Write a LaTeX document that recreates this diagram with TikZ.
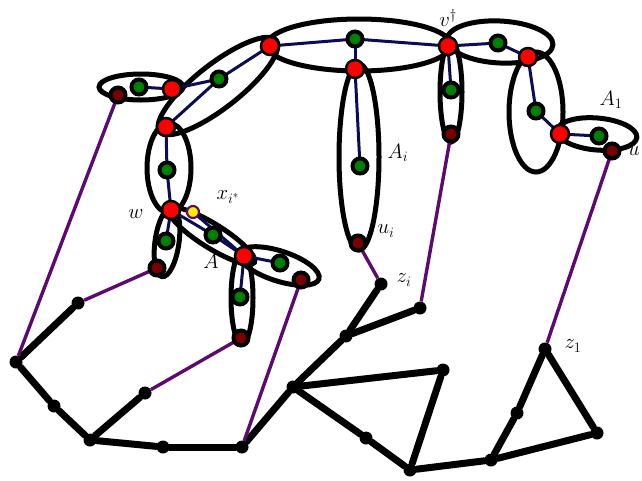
\documentclass[tikz,border=0pt]{standalone}
\usepackage{amsmath}
\usepackage{xcolor}
\usepackage{tikz}
\usetikzlibrary{positioning}

\definecolor{tiecol}{RGB}{92,10,112}
\definecolor{navy}{RGB}{12,12,84}
\definecolor{leafred}{RGB}{120,0,0}
\definecolor{leafgreen}{RGB}{0,128,0}

\tikzset{
  redv/.style={circle, fill=red, draw=black, line width=2.5pt, inner sep=0pt, minimum size=18pt},
  greenv/.style={circle, fill=leafgreen, draw=black, line width=4pt, inner sep=0pt, minimum size=15pt},
  darkv/.style={circle, fill=leafred, draw=black, line width=4pt, inner sep=0pt, minimum size=15pt},
  yellowv/.style={circle, fill=yellow, draw=tiecol, line width=2.2pt, inner sep=0pt, minimum size=12pt},
  blackv/.style={circle, fill=black, inner sep=0pt, minimum size=13pt},
  blob/.style={draw=black, line width=5pt},
  tree/.style={draw=black, line width=7pt},
  tie/.style={draw=tiecol, line width=3.4pt},
  link/.style={draw=navy, line width=3pt},
  lbl/.style={inner sep=1pt, font=\fontsize{21}{25}\selectfont}
}

\begin{document}
\begin{tikzpicture}[x=1pt, y=-1pt]
\useasboundingbox (0,0) rectangle (642,480);

% ellipses
\draw[blob] (141,87) ellipse (42pt and 13pt);
\draw[blob, rotate around={38:(218,86)}] (218,86) ellipse (74pt and 22pt);
\draw[blob] (359,45) ellipse (92pt and 26pt);
\draw[blob] (359,157) ellipse (20pt and 93pt);
\draw[blob] (451,92) ellipse (11pt and 50pt);
\draw[blob, rotate around={-3:(500,42)}] (500,42) ellipse (53pt and 21pt);
\draw[blob] (536,112) ellipse (27pt and 60pt);
\draw[blob, rotate around={-5:(597,134)}] (597,134) ellipse (40pt and 16pt);
\draw[blob] (169,168) ellipse (22pt and 45pt);
\draw[blob, rotate around={-8:(167,242)}] (167,242) ellipse (12pt and 35pt);
\draw[blob, rotate around={-32:(212,236)}] (212,236) ellipse (50pt and 12pt);
\draw[blob, rotate around={-18:(279,266)}] (279,266) ellipse (42pt and 15pt);
\draw[blob] (242,298) ellipse (11pt and 46pt);

% bottom tree
\foreach \n/\p in {b1/{16,362}, b2/{78,303}, b3/{54,406}, b4/{90,440}, b5/{145,393},
  b6/{163,447}, b7/{242,447}, b8/{293,387}, b9/{346,336}, b10/{381,284},
  b11/{420,308}, b12/{443,370}, b13/{366,438}, b14/{410,470}, b15/{491,460},
  b16/{517,413}, b17/{545,349}, b18/{597,433}}
  \node[blackv] (\n) at (\p) {};
\foreach \a/\b in {b2/b1, b1/b3, b3/b4, b4/b5, b4/b6, b6/b7, b7/b8, b8/b9, b9/b10,
  b9/b11, b8/b12, b12/b14, b8/b13, b13/b14, b14/b15, b15/b16, b16/b17, b17/b18, b18/b15}
  \draw[tree, line cap=round] (\a) -- (\b);

% upper vertices
\coordinate (r1) at (172,89);
\coordinate (r2) at (166,127);
\coordinate (r3) at (270,46);
\coordinate (r4) at (355,69);
\coordinate (r5) at (448,46);
\coordinate (r6) at (528,57);
\coordinate (r7) at (560,134);
\coordinate (r8) at (171,210);
\coordinate (r9) at (244,256);

\coordinate (g1) at (139,87);
\coordinate (g2) at (219,79);
\coordinate (g3) at (355,39);
\coordinate (g4) at (360,166);
\coordinate (g5) at (451,90);
\coordinate (g6) at (498,43);
\coordinate (g7) at (536,111);
\coordinate (g8) at (599,136);
\coordinate (g9) at (167,170);
\coordinate (g10) at (166,241);
\coordinate (g11) at (213,235);
\coordinate (g12) at (280,263);
\coordinate (g13) at (240,297);

\coordinate (d1) at (118,95);
\coordinate (d2) at (451,134);
\coordinate (d3) at (612,151);
\coordinate (d4) at (358,243);
\coordinate (d5) at (157,268);
\coordinate (d6) at (301,280);
\coordinate (d7) at (241,338);

\coordinate (xi) at (193,212);

% links
\foreach \a/\b in {g1/r1, r1/g2, r2/g2, g2/r3, r3/g3, g3/r5, g3/r4, r4/g4, r5/g5,
  r5/g6, g6/r6, r6/g7, g7/r7, r7/g8, r2/g9, g9/r8, r8/g10, r8/g11, g11/r9, xi/r9,
  r9/g12, r9/g13}
  \draw[link] (\a) -- (\b);

% ties to the tree
\foreach \a/\b in {d1/b1, d5/b2, d7/b5, d6/b7, d4/b10, d2/b11, d3/b17}
  \draw[tie] (\a) -- (\b);

% vertex marks
\foreach \c in {r1,r2,r3,r4,r5,r6,r7,r8,r9}
  \node[redv] at (\c) {};
\foreach \c in {g1,g2,g3,g4,g5,g6,g7,g8,g9,g10,g11,g12,g13}
  \node[greenv] at (\c) {};
\foreach \c in {d1,d2,d3,d4,d5,d6,d7}
  \node[darkv] at (\c) {};
\node[yellowv] at (xi) {};

% labels
\node[lbl] at (448,18) {$v^{\dagger}$};
\node[lbl] at (611,100) {$A_1$};
\node[lbl] at (634,151) {$u$};
\node[lbl] at (398,153) {$A_i$};
\node[lbl] at (386,231) {$u_i$};
\node[lbl] at (404,280) {$z_i$};
\node[lbl] at (228,197) {$x_{i^*}$};
\node[lbl] at (136,214) {$w$};
\node[lbl] at (211,261) {$A$};
\node[lbl] at (573,346) {$z_1$};
\end{tikzpicture}
\end{document}
